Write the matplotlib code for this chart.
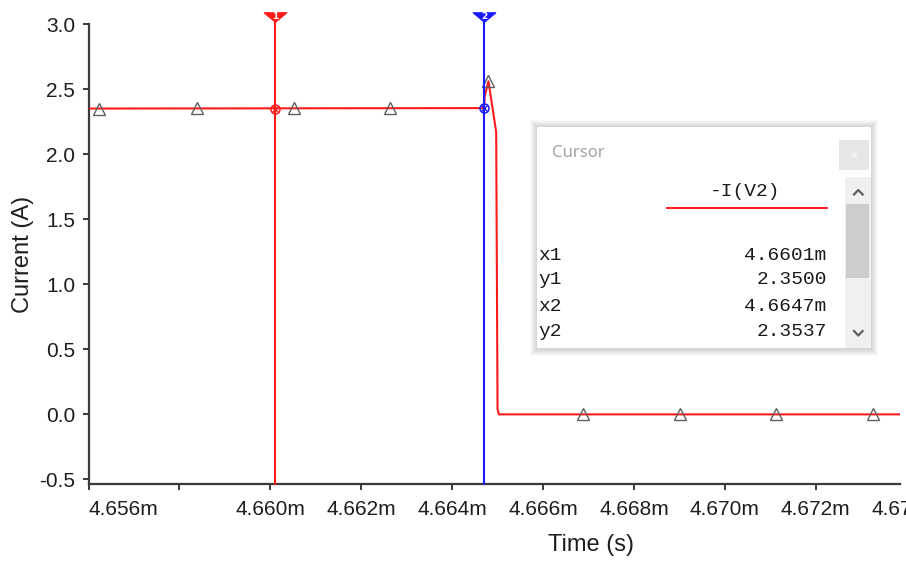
import numpy as np
import matplotlib
matplotlib.use("Agg")
import matplotlib.pyplot as plt
from matplotlib.patches import Rectangle
from matplotlib.lines import Line2D
from matplotlib.path import Path

# ---- data -------------------------------------------------------------
# simulated current through V2 (time in ms, current in A)
trace_t_ms = [4.6550, 4.66470, 4.66472, 4.66480, 4.66497, 4.66500, 4.66503, 4.6750]
trace_i = [2.35, 2.3537, 2.45, 2.56, 2.17, 0.04, 0.0, 0.0]

# sample points highlighted on the trace (ms)
marker_t_ms = [4.65623, 4.65839, 4.66052, 4.66263, 4.66480,
               4.66688, 4.66901, 4.67113, 4.67326]

# cursors
cursor_names = ["1", "2"]
cursor_x_ms = [4.6601, 4.6647]
cursor_y = [2.3500, 2.3537]
cursor_colors = ["#ff1a1a", "#1a1aff"]

# axis ticks
xtick_ms = [4.656, 4.658, 4.660, 4.662, 4.664, 4.666, 4.668, 4.670, 4.672]
xtick_labels = ["4.656m", "", "4.660m", "4.662m", "4.664m",
                "4.666m", "4.668m", "4.670m", "4.672m"]
extra_tick_ms = 4.674
extra_tick_label = "4.674m"
ytick_vals = [-0.5, 0.0, 0.5, 1.0, 1.5, 2.0, 2.5, 3.0]
ytick_labels = ["-0.5", "0.0", "0.5", "1.0", "1.5", "2.0", "2.5", "3.0"]

# cursor readout panel
readout_trace = "-I(V2)"
readout_rows = ["x1", "y1", "x2", "y2"]
readout_vals = ["4.6601m", "2.3500", "4.6647m", "2.3537"]

# ---- figure -----------------------------------------------------------
W, H = 906, 561
fig = plt.figure(figsize=(W / 100, H / 100), dpi=100, facecolor="white")


def fx(x):
    return x / W


def fy(y):
    return 1 - y / H


ax_l, ax_r, ax_t, ax_b = 88.5, 900.0, 24.0, 484.0
ax = fig.add_axes([fx(ax_l), fy(ax_b), (ax_r - ax_l) / W, (ax_b - ax_t) / H])

t = np.array(trace_t_ms) * 1e-3
i = np.array(trace_i)
mt = np.array(marker_t_ms) * 1e-3
mi = np.interp(mt, t, i)

RED = "#ff1a1a"
ax.plot(t, i, color=RED, lw=1.5, zorder=3)
ax.plot(mt, mi, ls="none", marker="^", ms=8, mfc="none", mec="#606060",
        mew=1.0, zorder=4)

xmin = 4.656e-3
xmax = xmin + (ax_r - ax_l) / 45.45e6
ax.set_xlim(xmin, xmax)
ax.set_ylim(-0.535, 3.0)

TICK_LEN, XPAD = 4.5, 7
ax.set_xticks(np.array(xtick_ms) * 1e-3)
ax.set_xticklabels(xtick_labels)
ax.get_xticklabels()[0].set_horizontalalignment("left")
ax.set_yticks(ytick_vals)
ax.set_yticklabels(ytick_labels)

tick_font = dict(family="Liberation Sans", size=15, color="#1e1e1e")
for lab in ax.get_xticklabels() + ax.get_yticklabels():
    lab.set_fontfamily(tick_font["family"])
    lab.set_fontsize(tick_font["size"])
    lab.set_color(tick_font["color"])

# label of the next tick, which lies just past the right end of the axis
ax.annotate(extra_tick_label, xy=(extra_tick_ms * 1e-3, 0),
            xycoords=("data", "axes fraction"),
            xytext=(0, -(TICK_LEN + XPAD)), textcoords="offset points",
            ha="center", va="top", annotation_clip=False, **tick_font)

for side in ("top", "right"):
    ax.spines[side].set_visible(False)
for side in ("left", "bottom"):
    ax.spines[side].set_color("#3a3a3a")
    ax.spines[side].set_linewidth(1.6)
ax.tick_params(axis="both", direction="out", length=TICK_LEN, width=1.4,
               color="#3a3a3a")
ax.tick_params(axis="x", pad=XPAD)
ax.tick_params(axis="y", pad=5)

ax.set_xlabel("Time (s)", family="Liberation Sans", size=17, color="#1e1e1e")
ax.xaxis.set_label_coords((591 - ax_l) / (ax_r - ax_l), (ax_b - 545) / (ax_b - ax_t))
ax.xaxis.label.set_va("center")
ax.set_ylabel("Current (A)", family="Liberation Sans", size=17, color="#1e1e1e")
ax.yaxis.set_label_coords((23 - ax_l) / (ax_r - ax_l), 0.5)
ax.yaxis.label.set_va("center")

# cursors: vertical line, flag on top and crosshair marker on the trace
flag = Path([(-1.2, 0.5), (1.2, 0.5), (0.0, -0.5), (-1.2, 0.5)],
            [Path.MOVETO, Path.LINETO, Path.LINETO, Path.CLOSEPOLY])
flag_y = (ax_b - 17) / (ax_b - ax_t)
xt = ax.get_xaxis_transform()
for name, cx, cy, col in zip(cursor_names, cursor_x_ms, cursor_y, cursor_colors):
    x = cx * 1e-3
    ax.plot([x, x], [0, flag_y], color=col, lw=1.5, transform=xt,
            clip_on=False, zorder=5)
    ax.plot([x], [flag_y], marker=flag, ms=16, color=col, transform=xt,
            clip_on=False, zorder=6)
    ax.text(x, flag_y + 0.002, name, color="white", fontsize=6.5,
            fontweight="bold", ha="center", va="center", transform=xt,
            clip_on=False, zorder=7)
    ax.plot([x], [cy], marker="o", ms=6.5, mfc="none", mec=col, mew=1.1,
            zorder=6)
    ax.plot([x], [cy], marker="x", ms=4.5, mec=col, mew=1.0, zorder=6)

# ---- cursor readout panel ---------------------------------------------
px_l, px_t, px_r, px_b = 537.3, 127.3, 870.7, 347.7
for k in range(1, 8):
    fig.add_artist(Rectangle((fx(px_l - k), fy(px_b + k + 1)),
                             (px_r - px_l + 2 * k) / W,
                             (px_b - px_t + 2 * k + 1) / H,
                             transform=fig.transFigure, facecolor="black",
                             edgecolor="none", alpha=0.022, zorder=10))
fig.add_artist(Rectangle((fx(px_l), fy(px_b)), (px_r - px_l) / W,
                         (px_b - px_t) / H, transform=fig.transFigure,
                         facecolor="white", edgecolor="none", zorder=11))

fig.text(fx(551.7), fy(153.3), "Cursor", color="#a3a3a3", fontsize=12,
         family="Noto Sans", ha="left", va="center", zorder=12)

# close button
fig.add_artist(Rectangle((fx(839.3), fy(170)), 29.7 / W, 30 / H,
                         transform=fig.transFigure, facecolor="#e6e6e6",
                         edgecolor="none", zorder=12))
fig.text(fx(854.2), fy(155), "x", color="#f7f7f7", fontsize=10,
         family="DejaVu Sans", ha="center", va="center", zorder=13)

# scrollbar
fig.add_artist(Rectangle((fx(845), fy(px_b)), 25.7 / W, (px_b - 176.7) / H,
                         transform=fig.transFigure, facecolor="#f0f0f0",
                         edgecolor="none", zorder=12))
fig.add_artist(Rectangle((fx(846), fy(277.7)), 23 / W, (277.7 - 204) / H,
                         transform=fig.transFigure, facecolor="#cdcdcd",
                         edgecolor="none", zorder=13))
for ys in ((194.5, 190.0), (331.0, 335.5)):
    fig.add_artist(Line2D([fx(854), fx(858.3), fx(862.6)],
                          [fy(ys[0]), fy(ys[1]), fy(ys[0])],
                          transform=fig.transFigure, color="#606060",
                          lw=1.6, zorder=13))

mono = dict(family="Liberation Mono", size=14, color="#1a1a1a", zorder=12)
fig.text(fx(745), fy(191.7), readout_trace, ha="center", va="center", **mono)
fig.add_artist(Line2D([fx(666.7), fx(826.7)], [fy(208.3), fy(208.3)],
                      transform=fig.transFigure, color=RED, lw=1.4,
                      zorder=12))
row_y = [255, 280, 306.7, 331.7]
for name, val, yy in zip(readout_rows, readout_vals, row_y):
    fig.text(fx(538.3), fy(yy), name, ha="left", va="center", **mono)
    fig.text(fx(826.7), fy(yy), val, ha="right", va="center", **mono)

fig.savefig("out.png", dpi=100, facecolor="white")
